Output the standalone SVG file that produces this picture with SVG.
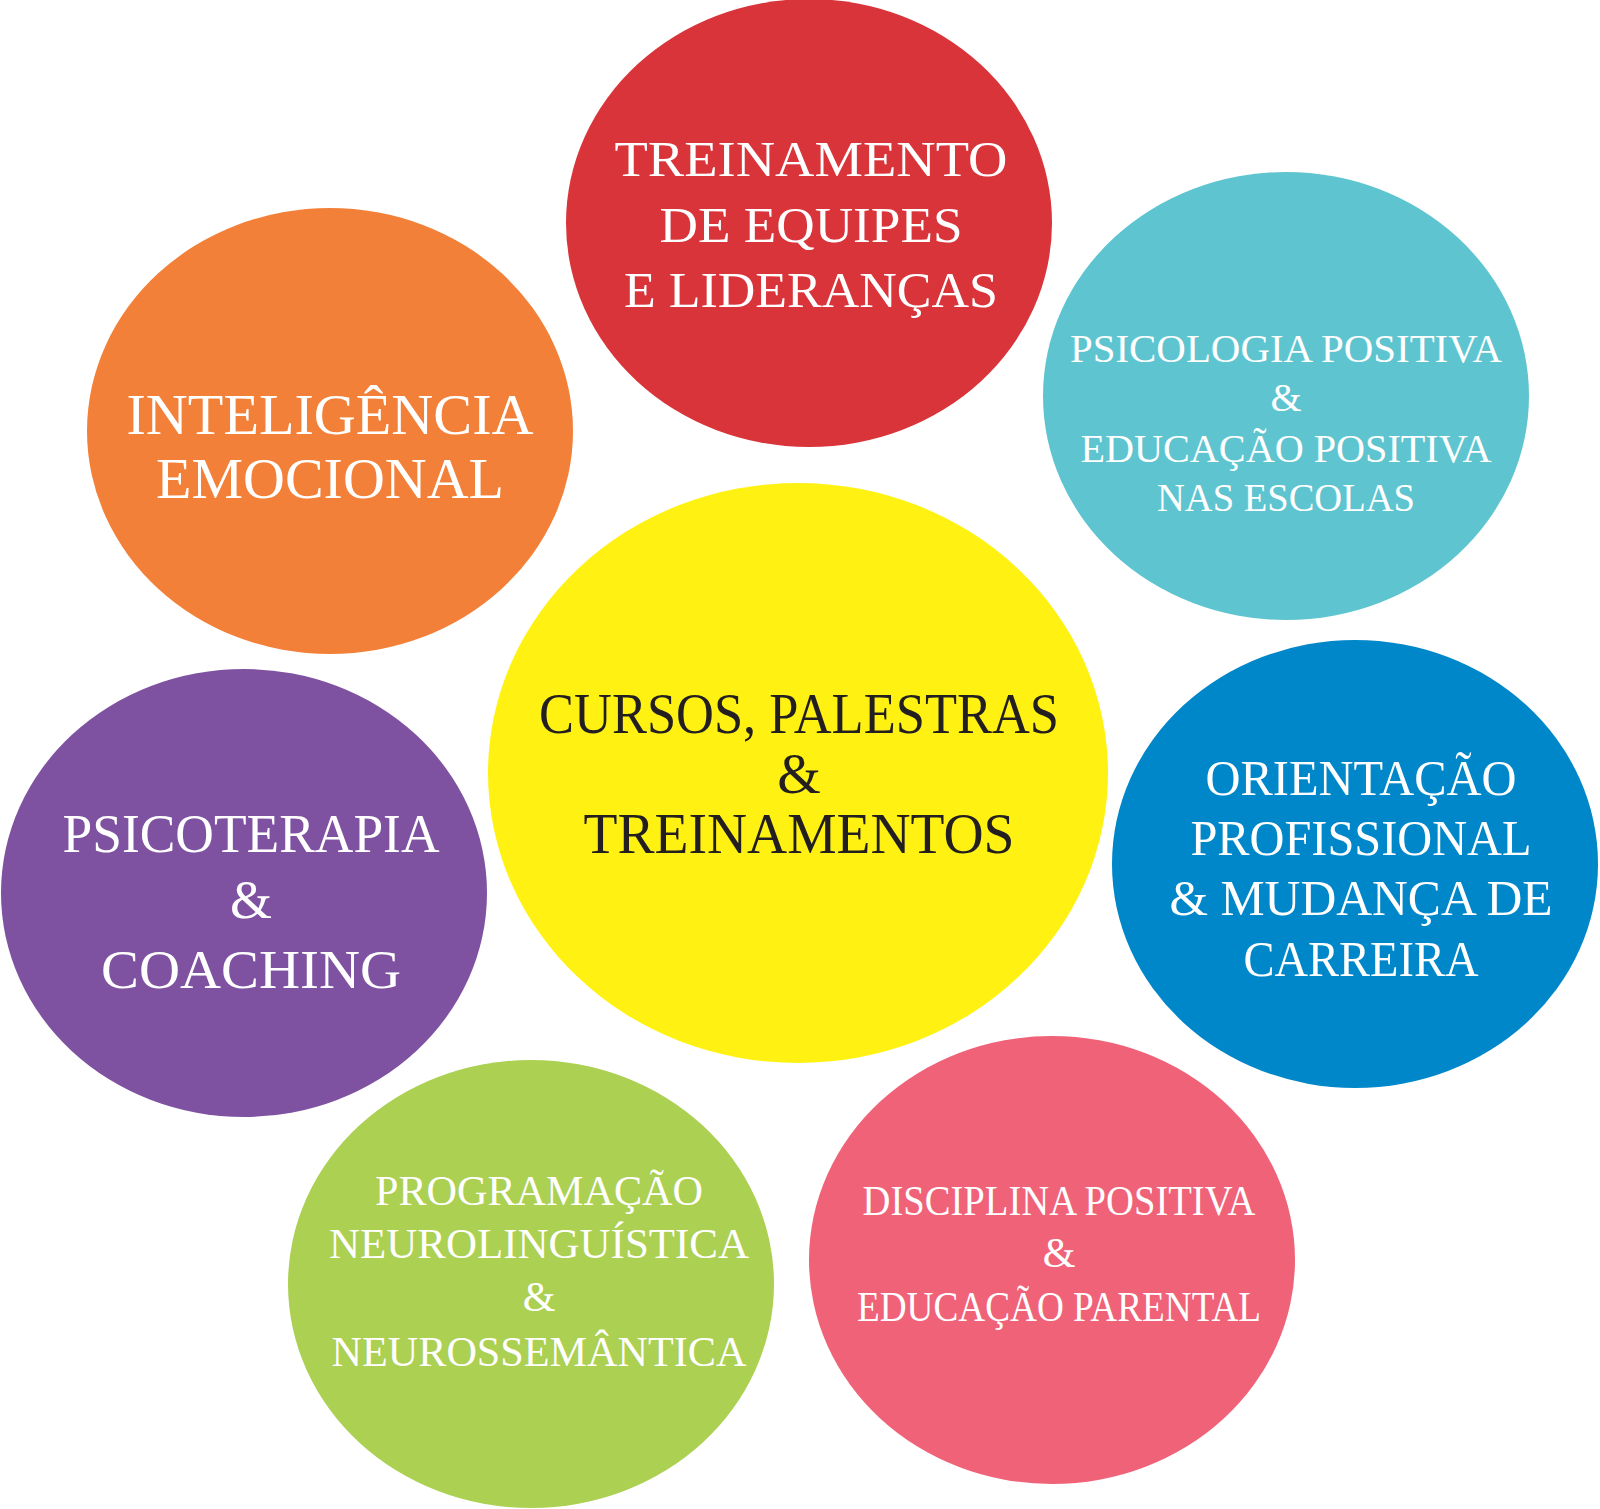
<svg xmlns="http://www.w3.org/2000/svg" width="1600" height="1509" viewBox="0 0 1600 1509">
<style>
text{font-family:"Liberation Serif","DejaVu Serif",serif;text-anchor:middle;fill:#fff}
.y text{fill:#231f20}
</style>
<rect width="1600" height="1509" fill="#fff"/>
<g id="connectors"/>
<g id="red"><ellipse cx="809" cy="223" rx="243" ry="224" fill="#d8343a"/>
<text font-size="50"><tspan x="811" y="176" textLength="393" lengthAdjust="spacingAndGlyphs">TREINAMENTO</tspan><tspan x="811" y="242" textLength="303" lengthAdjust="spacingAndGlyphs">DE EQUIPES</tspan><tspan x="811" y="307" textLength="374" lengthAdjust="spacingAndGlyphs">E LIDERANÇAS</tspan></text></g>
<g id="orange"><ellipse cx="330" cy="431" rx="243" ry="223" fill="#f38038"/>
<text font-size="58"><tspan x="330" y="434" textLength="407" lengthAdjust="spacingAndGlyphs">INTELIGÊNCIA</tspan><tspan x="330" y="498" textLength="348" lengthAdjust="spacingAndGlyphs">EMOCIONAL</tspan></text></g>
<g id="cyan"><ellipse cx="1286" cy="396" rx="243" ry="224" fill="#5ec5d0"/>
<text font-size="40"><tspan x="1286" y="362" textLength="432" lengthAdjust="spacingAndGlyphs">PSICOLOGIA POSITIVA</tspan><tspan x="1286" y="411">&amp;</tspan><tspan x="1286" y="462" textLength="411" lengthAdjust="spacingAndGlyphs">EDUCAÇÃO POSITIVA</tspan><tspan x="1286" y="511" textLength="258" lengthAdjust="spacingAndGlyphs">NAS ESCOLAS</tspan></text></g>
<g id="center" class="y"><ellipse cx="798" cy="773" rx="310" ry="290" fill="#fff212"/>
<text font-size="56"><tspan x="799" y="733" textLength="520" lengthAdjust="spacingAndGlyphs">CURSOS, PALESTRAS</tspan><tspan x="799" y="793">&amp;</tspan><tspan x="799" y="853" textLength="431" lengthAdjust="spacingAndGlyphs">TREINAMENTOS</tspan></text></g>
<g id="purple"><ellipse cx="244" cy="893" rx="243" ry="224" fill="#7e52a0"/>
<text font-size="54"><tspan x="251" y="852" textLength="377" lengthAdjust="spacingAndGlyphs">PSICOTERAPIA</tspan><tspan x="251" y="918">&amp;</tspan><tspan x="251" y="988" textLength="300" lengthAdjust="spacingAndGlyphs">COACHING</tspan></text></g>
<g id="blue"><ellipse cx="1355" cy="864" rx="243" ry="224" fill="#0087c9"/>
<text font-size="50"><tspan x="1361" y="795" textLength="311" lengthAdjust="spacingAndGlyphs">ORIENTAÇÃO</tspan><tspan x="1361" y="855" textLength="341" lengthAdjust="spacingAndGlyphs">PROFISSIONAL</tspan><tspan x="1361" y="915" textLength="383" lengthAdjust="spacingAndGlyphs">&amp; MUDANÇA DE</tspan><tspan x="1361" y="976" textLength="235" lengthAdjust="spacingAndGlyphs">CARREIRA</tspan></text></g>
<g id="green"><ellipse cx="531" cy="1284" rx="243" ry="224" fill="#abd052"/>
<text font-size="42"><tspan x="539" y="1205" textLength="328" lengthAdjust="spacingAndGlyphs">PROGRAMAÇÃO</tspan><tspan x="539" y="1258" textLength="420" lengthAdjust="spacingAndGlyphs">NEUROLINGUÍSTICA</tspan><tspan x="539" y="1311">&amp;</tspan><tspan x="539" y="1366" textLength="415" lengthAdjust="spacingAndGlyphs">NEUROSSEMÂNTICA</tspan></text></g>
<g id="pink"><ellipse cx="1052" cy="1260" rx="243" ry="224" fill="#ef6278"/>
<text font-size="42"><tspan x="1059" y="1215" textLength="393" lengthAdjust="spacingAndGlyphs">DISCIPLINA POSITIVA</tspan><tspan x="1059" y="1267">&amp;</tspan><tspan x="1059" y="1321" textLength="404" lengthAdjust="spacingAndGlyphs">EDUCAÇÃO PARENTAL</tspan></text></g>
</svg>
